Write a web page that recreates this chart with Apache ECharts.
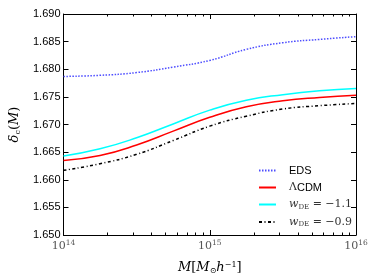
<!DOCTYPE html>
<html><head><meta charset="utf-8">
<script src="https://cdn.jsdelivr.net/npm/echarts@6/dist/echarts.min.js"></script>
<style>html,body{margin:0;padding:0;background:#fff}#c{width:374px;height:280px}</style>
</head><body><div id="c"></div>
<script>
// x values: log10 of M [M_sun h^-1]
var logM = [14, 14.25, 14.5, 14.75, 15, 15.25, 15.5, 15.75, 16];
var eds   = [1.6787, 1.6789, 1.6794, 1.6804, 1.6816, 1.6836, 1.6848, 1.6854, 1.6859];
var lcdm  = [1.6635, 1.6644, 1.6663, 1.6688, 1.6713, 1.6732, 1.6743, 1.6749, 1.6753];
var wm11  = [1.6643, 1.6656, 1.6676, 1.6701, 1.6726, 1.6744, 1.6754, 1.6761, 1.6765];
var wm09  = [1.6617, 1.6629, 1.6646, 1.6671, 1.6697, 1.6715, 1.6728, 1.6734, 1.6738];
var xTicks = [14, 15, 16];
var yTicks = [1.650, 1.655, 1.660, 1.665, 1.670, 1.675, 1.680, 1.685, 1.690];

var minorX = [];
[14, 15].forEach(function (d) { for (var k = 2; k <= 9; k++) minorX.push(d + Math.log10(k)); });

function pairs(ys) { return logM.map(function (x, i) { return [x, ys[i]]; }); }

var sansFont = 'Liberation Sans';
var serif = 'DejaVu Serif';
var common = { type: 'value', min: 14, max: 16, interval: 1, splitLine: { show: false } };
function xAx(pos, minor) {
  return Object.assign({}, common, {
    position: pos,
    axisLine: { show: !minor, lineStyle: { color: '#000', width: 1 } },
    axisTick: minor ? { show: true, inside: true, length: 2.5, customValues: minorX, lineStyle: { color: '#000' } }
                    : { show: true, inside: true, length: 5, lineStyle: { color: '#000' } },
    axisLabel: { show: !minor && pos === 'bottom', margin: 4,
      formatter: function (v) { return '{b|10}{s|' + v + '}'; },
      rich: { b: { fontFamily: serif, fontSize: 11, color: '#555' },
              s: { fontFamily: serif, fontSize: 7.5, color: '#555', verticalAlign: 'top', padding: [0, 0, 6, 0] } } }
  });
}
function yAx(pos) {
  return { type: 'value', position: pos, min: 1.650, max: 1.690, interval: 0.005,
    splitLine: { show: false },
    axisLine: { show: true, lineStyle: { color: '#000', width: 1 } },
    axisTick: { show: true, inside: true, length: 5, lineStyle: { color: '#000' } },
    axisLabel: { show: pos === 'left', margin: 3, color: '#000', fontFamily: sansFont, fontSize: 11,
      formatter: function (v) { return v.toFixed(3); } } };
}
var xAxes = [xAx('bottom', false), xAx('bottom', true), xAx('top', false), xAx('top', true)];
xAxes[0].name = '{i|M}{n|[}{i|M}{s|⊙}{i|h}{p|−1}{n|]}';
xAxes[0].nameLocation = 'middle';
xAxes[0].nameGap = 26;
xAxes[0].nameTextStyle = { rich: {
  i: { fontFamily: serif, fontStyle: 'italic', fontSize: 13, color: '#000' },
  n: { fontFamily: serif, fontSize: 13, color: '#000' },
  s: { fontFamily: serif, fontSize: 8, color: '#000', verticalAlign: 'bottom', padding: [6, 0, 0, 0] },
  p: { fontFamily: serif, fontSize: 8, color: '#000', verticalAlign: 'top', padding: [0, 0, 6, 0] } } };
var yAxes = [yAx('left'), yAx('right')];
yAxes[0].name = '{i|δ}{s|c}{n|(}{i|M}{n|)}';
yAxes[0].nameLocation = 'middle';
yAxes[0].nameGap = 42;
yAxes[0].nameTextStyle = { rich: {
  i: { fontFamily: serif, fontStyle: 'italic', fontSize: 13, color: '#000' },
  n: { fontFamily: serif, fontSize: 13, color: '#000' },
  s: { fontFamily: serif, fontSize: 8, color: '#000', verticalAlign: 'bottom', padding: [6, 0, 0, 0] } } };

var names = ['EDS', 'ΛCDM', 'wDE = −1.1', 'wDE = −0.9'];
var labels = {
  'EDS': '{a|EDS}',
  'ΛCDM': '{g|Λ}{a|CDM}',
  'wDE = −1.1': '{w|w}{d|DE}{g| = −1.1}',
  'wDE = −0.9': '{w|w}{d|DE}{g| = −0.9}'
};

var chart = echarts.init(document.getElementById('c'), null, { renderer: 'canvas' });
chart.setOption({
  animation: false,
  grid: { left: 61, right: 18, top: 14, bottom: 44 },
  xAxis: xAxes,
  yAxis: yAxes,
  legend: {
    orient: 'vertical', left: 253, top: 160, itemWidth: 17, itemHeight: 10, itemGap: 6,
    data: names,
    itemStyle: { opacity: 0 },
    formatter: function (n) { return labels[n]; },
    textStyle: { padding: [0, 0, 0, 8], rich: {
      a: { fontFamily: sansFont, fontSize: 11, color: '#000' },
      g: { fontFamily: serif, fontSize: 11, color: '#333' },
      w: { fontFamily: serif, fontStyle: 'italic', fontSize: 11, color: '#333' },
      d: { fontFamily: serif, fontSize: 7, color: '#333', verticalAlign: 'bottom', padding: [5, 0, 0, 0] } } }
  },
  series: [
    { name: names[0], type: 'line', showSymbol: false, symbol: 'none', smooth: 0.5, data: pairs(eds),
      lineStyle: { color: '#4d4dff', width: 1.5, type: [1.5, 1.5] }, itemStyle: { color: '#4d4dff' } },
    { name: names[1], type: 'line', showSymbol: false, symbol: 'none', smooth: 0.5, data: pairs(lcdm),
      lineStyle: { color: '#ff0000', width: 1.5 }, itemStyle: { color: '#ff0000' } },
    { name: names[2], type: 'line', showSymbol: false, symbol: 'none', smooth: 0.5, data: pairs(wm11),
      lineStyle: { color: '#00ffff', width: 1.5 }, itemStyle: { color: '#00ffff' } },
    { name: names[3], type: 'line', showSymbol: false, symbol: 'none', smooth: 0.5, data: pairs(wm09),
      lineStyle: { color: '#000000', width: 1.5, type: [3, 2.5, 1, 2.5] }, itemStyle: { color: '#000000' } }
  ]
});
</script></body></html>
